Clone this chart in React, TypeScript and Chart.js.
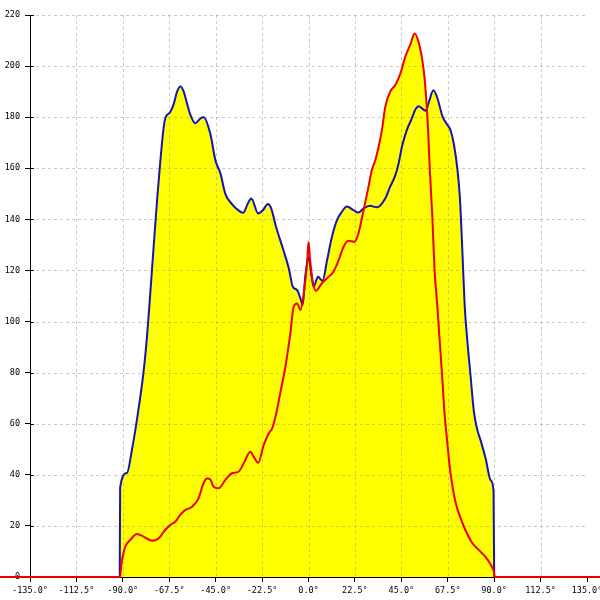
import React, { useEffect, useRef } from 'react';
import { Chart, registerables } from 'chart.js';

Chart.register(...registerables);

// Red series (angle in degrees, value)
const redDeg = [
  -150, -91.5, -90.4, -88.8, -86.4, -83.2, -80, -75.9, -72.7, -69.5, -67, -64.6, -62.2, -59.8, -56.5, -53.3,
  -50.9, -49.2, -47.6, -46, -43.6, -40.3, -37.1, -33.9, -31.4, -28.2, -26.6, -24.4, -21.7, -19.3, -17.6, -16,
  -13.7, -11.2, -8.8, -7.2, -5.5, -3.9, -2.3, -0.7, 0, 0.8, 2, 3.6, 6.5, 9.7, 12.1, 14.6, 17, 19.4, 22.3, 24.2,
  26.7, 29.1, 30.7, 32.4, 34, 35.6, 37.2, 39.6, 42.1, 44.5, 46.9, 49.4, 51.4, 53.5, 55.6, 56.8, 57.9, 58.8, 60,
  61.1, 62.4, 63.6, 64.8, 65.9, 67.2, 68.4, 69.6, 71.2, 73.3, 76.1, 79.3, 82.5, 85.8, 88.2, 89.8, 90.3, 150,
];
const redVal = [
  0, 0, 6.6, 11.9, 14.5, 16.8, 15.8, 14.2, 15.1, 18.4, 20.4, 21.6, 24.3, 26.2, 27.5, 30.8,
  36.7, 38.6, 38.2, 35.3, 34.7, 38, 40.6, 41.2, 44.5, 49, 47.1, 44.7, 51.7, 56.2, 58.2, 62.7,
  71.9, 82.3, 95.4, 105.8, 107.1, 104.5, 111, 122.8, 131.2, 124, 116, 112, 115, 117.5, 119.5, 124, 129.3, 131.6, 131.2, 134.5,
  143.6, 152.8, 159.3, 163.2, 168.4, 175, 184, 190, 192.6, 197, 203.6, 208.5, 212.8, 209, 200, 190.2, 176.2, 159.5, 141.3,
  120.3, 106.4, 92.4, 78.4, 64.4, 53.3, 43.5, 36.5, 29.5, 23.9, 18.3, 13.4, 10.6, 7.9, 5, 2.3, 0, 0,
];

// Blue series (angle in degrees, value)
const blueDeg = [
  -91.5, -91.3, -88, -85.6, -83.2, -80, -78.3, -76.7, -75.1, -73.4, -71.8, -70.2, -69.4, -67, -65.4, -63.7,
  -62.1, -60.5, -58.9, -57.3, -54.9, -52.4, -50.8, -47.6, -45.1, -42.7, -40.3, -37.1, -34.1, -31.7, -29.3, -27.7,
  -24.4, -22.1, -19.7, -18.1, -15.7, -12.2, -9.6, -7.6, -5.5, -3.9, -2.8, -1.6, 0, 1.6, 2.5, 4.6, 6.8, 9, 11.3,
  13.8, 16.2, 18.6, 21.8, 24.2, 26.7, 29.9, 33.1, 37.2, 39.6, 42.1, 43.7, 45.3, 47.7, 50.1, 51.8, 53.5, 56.8, 58.4,
  60.5, 62.5, 64.9, 67.3, 68.9, 70.5, 72.2, 73.4, 74.6, 75.7, 77, 78.6, 80.2, 81.9, 83.5, 85.9, 88.3, 89.7, 90,
];
const blueVal = [
  0, 35, 40.7, 49.7, 61.4, 80, 94, 111, 129, 147.5, 163, 176, 179.6, 182, 185, 190,
  192, 190, 185.4, 181, 177.6, 179.5, 180, 173.5, 163, 158, 150, 146, 143.6, 142.6, 146.4, 148.2,
  142.3, 143.6, 146, 144.3, 137, 128, 121, 113.6, 112.3, 109, 106.5, 117.5, 125, 117, 113.6, 117.5, 116, 124, 133,
  139.7, 143, 145, 143.6, 142.7, 144.3, 145.3, 144.7, 148.2, 152.8, 157.3, 162, 168.4, 175, 179.5, 183, 184.3, 182.5, 186,
  190.5, 187.4, 180.4, 177, 174.8, 169.3, 159.5, 148.3, 127.3, 106.4, 92.4, 78.4, 64.5, 57.4, 53.3, 46.3, 37.9, 33.7, 0,
];

const xMin = -135;
const xMax = 135;
const xStep = 22.5;
const yMin = 0;
const yMax = 220;
const yStep = 20;

const tickFont = { family: '"DejaVu Sans Mono", monospace', size: 8.5 };

const overlayGrid = {
  id: 'overlayGrid',
  beforeDatasetsDraw(chart: any) {
    const { ctx, chartArea: a, scales } = chart;
    const x = scales.x;
    const y = scales.y;
    ctx.save();
    ctx.beginPath();
    ctx.rect(a.left, a.top, a.right - a.left, a.bottom - a.top);
    ctx.clip();
    ctx.strokeStyle = 'rgba(150,150,150,0.5)';
    ctx.lineWidth = 1;
    ctx.setLineDash([3, 3]);
    x.ticks.forEach((t: any) => {
      const px = Math.round(x.getPixelForValue(t.value)) + 0.5;
      if (px <= a.left + 1) return;
      ctx.beginPath();
      ctx.moveTo(px, a.top);
      ctx.lineTo(px, a.bottom);
      ctx.stroke();
    });
    y.ticks.forEach((t: any) => {
      const py = Math.round(y.getPixelForValue(t.value)) + 0.5;
      if (py >= a.bottom - 1) return;
      ctx.beginPath();
      ctx.moveTo(a.left, py);
      ctx.lineTo(a.right, py);
      ctx.stroke();
    });
    ctx.restore();
    ctx.save();
    ctx.strokeStyle = '#000';
    ctx.lineWidth = 1;
    y.ticks.forEach((t: any) => {
      const py = Math.round(y.getPixelForValue(t.value)) + 0.5;
      ctx.beginPath();
      ctx.moveTo(a.left, py);
      ctx.lineTo(a.left + 4, py);
      ctx.stroke();
    });
    ctx.restore();
  },
};

export default function App() {
  const ref = useRef<HTMLCanvasElement | null>(null);

  useEffect(() => {
    if (!ref.current) return;
    const chart = new Chart(ref.current, {
      type: 'line',
      data: {
        datasets: [
          {
            label: 'red',
            data: redDeg.map((d, i) => ({ x: d, y: redVal[i] })),
            borderColor: '#ee0000',
            borderWidth: 2,
            backgroundColor: '#ffff00',
            fill: 'origin',
            pointRadius: 0,
            cubicInterpolationMode: 'monotone',
            clip: false as any,
          },
          {
            label: 'blue',
            data: blueDeg.map((d, i) => ({ x: d, y: blueVal[i] })),
            borderColor: '#1414b4',
            borderWidth: 2,
            backgroundColor: '#ffff00',
            fill: 'origin',
            pointRadius: 0,
            cubicInterpolationMode: 'monotone',
          },
        ],
      },
      options: {
        responsive: false,
        animation: false,
        devicePixelRatio: 1,
        layout: { padding: { top: 15, right: 13, left: 0, bottom: 0 } },
        plugins: {
          legend: { display: false },
          tooltip: { enabled: false },
          filler: { drawTime: 'beforeDatasetsDraw' },
        } as any,
        scales: {
          x: {
            type: 'linear',
            min: xMin,
            max: xMax,
            ticks: {
              stepSize: xStep,
              autoSkip: false,
              maxRotation: 0,
              color: '#000',
              font: tickFont,
              padding: 4,
              callback: (v: any) => Number(v).toFixed(1) + '°',
            },
            grid: { color: 'rgba(0,0,0,0)', tickColor: '#000', tickLength: 5 },
            border: { color: '#000', width: 1 },
            afterFit: (s: any) => {
              s.height = 23;
              s.paddingLeft = 0;
              s.paddingRight = 0;
            },
          },
          y: {
            type: 'linear',
            min: yMin,
            max: yMax,
            ticks: {
              stepSize: yStep,
              color: '#000',
              font: tickFont,
              padding: 5,
            },
            grid: { color: 'rgba(0,0,0,0)', tickColor: '#000', tickLength: 5 },
            border: { color: '#000', width: 1 },
            afterFit: (s: any) => {
              s.width = 30;
              s.paddingTop = 0;
              s.paddingBottom = 0;
            },
          },
        },
      },
      plugins: [overlayGrid],
    });
    return () => chart.destroy();
  }, []);

  return (
    <div style={{ position: 'absolute', left: 0, top: 0, width: 600, height: 600, background: '#fff' }}>
      <canvas ref={ref} width={600} height={600} style={{ display: 'block' }} />
    </div>
  );
}
